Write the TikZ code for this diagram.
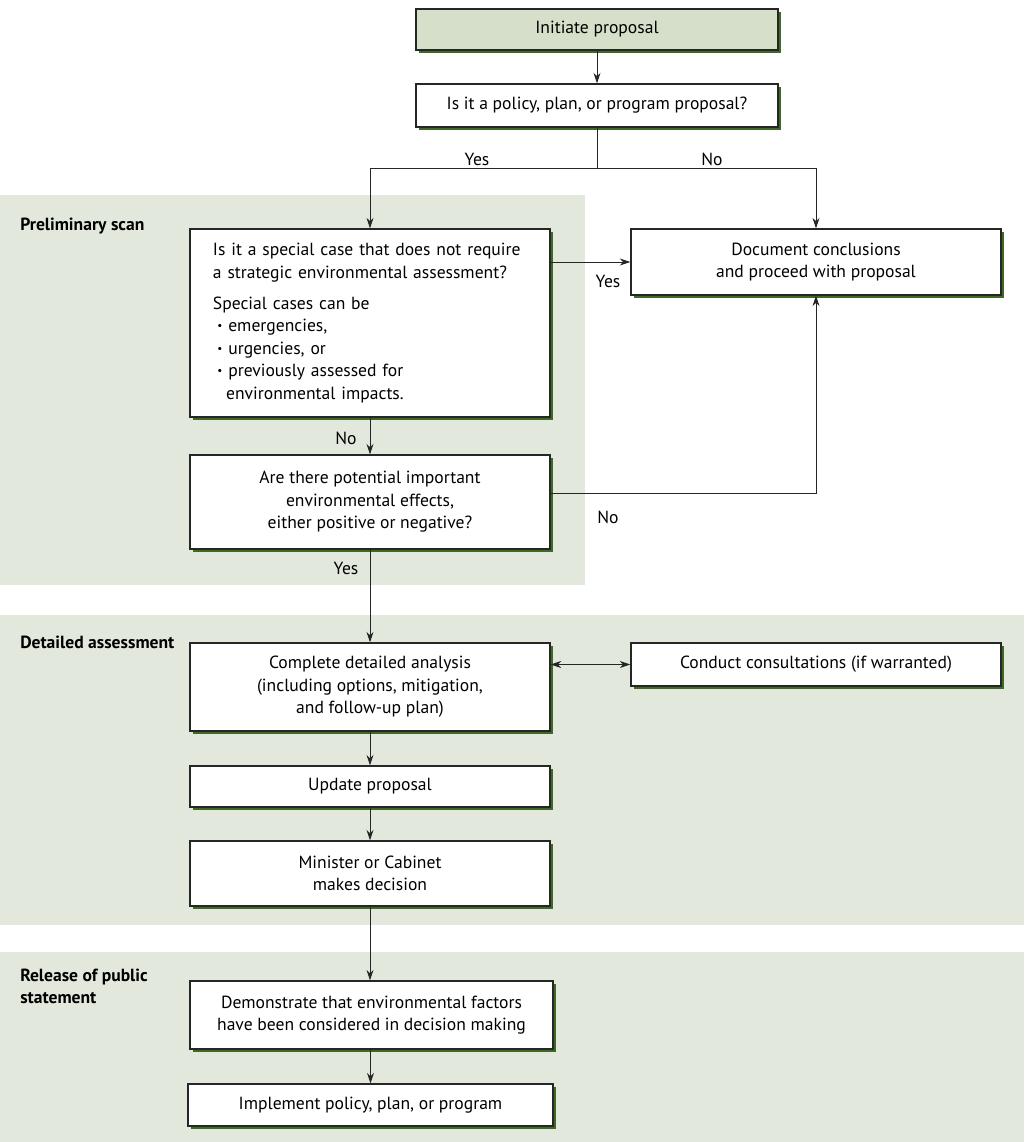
\documentclass[tikz,border=0pt]{standalone}
\usepackage{fontspec}
\setmainfont{PT Sans}
\usetikzlibrary{arrows.meta, positioning, calc}

\definecolor{bandgreen}{HTML}{E3E8DC}
\definecolor{startgreen}{HTML}{D5DFC9}
\definecolor{shadowgreen}{HTML}{3F6A25}

\newcommand{\smallbul}{\raisebox{0.12em}{\fontsize{8}{8}\selectfont\textbullet}}

\tikzset{
  procbox/.style={draw=black!85, line width=0.9pt, fill=white, align=center, inner sep=2pt,
    font=\fontsize{12.5}{16}\selectfont,
    preaction={fill=shadowgreen, transform canvas={shift={(2pt,-2pt)}}}},
  startbox/.style={procbox, fill=startgreen},
  sectlabel/.style={font=\bfseries\fontsize{12.5}{15.5}\selectfont, anchor=north west, align=left, inner sep=0pt},
  answer/.style={font=\fontsize{12.5}{16}\selectfont, inner sep=0pt},
  arr/.style={-{Stealth[length=7.5pt,width=5pt]}, line width=0.7pt, black!85},
  link/.style={line width=0.7pt, black!85}
}

\begin{document}
\begin{tikzpicture}[x=0.025cm, y=-0.025cm]
\useasboundingbox (0,0) rectangle (1024,1142);

% Background bands
\fill[bandgreen] (0,195) rectangle (585,585);
\fill[bandgreen] (0,615) rectangle (1024,925);
\fill[bandgreen] (0,952) rectangle (1024,1142);

% Band labels
\node[sectlabel] (lblscan) at (20,218) {Preliminary scan};
\node[sectlabel] (lbldetail) at (20,636) {Detailed assessment};
\node[sectlabel] (lblrelease) at (20,969) {Release of public\\statement};

% Top of the chart
\node[startbox, minimum width=9.05cm, minimum height=1.025cm] (init) at (597,29.5) {Initiate proposal};
\node[procbox, minimum width=9.05cm, minimum height=1.075cm] (policy) at (597,105.5) {Is it a policy, plan, or program proposal?};

% Preliminary scan
\node[procbox, minimum width=9cm, minimum height=4.7cm, align=left, text width=7.85cm, inner xsep=0.575cm] (special) at (370,323)
  {Is it a special case that does not require\\
   a strategic environmental assessment?\\[6pt]
   Special cases can be\\
   \hspace*{0.25em}\smallbul\ emergencies,\\
   \hspace*{0.25em}\smallbul\ urgencies, or\\
   \hspace*{0.25em}\smallbul\ previously assessed for\\
   \hspace*{0.75em}environmental impacts.};
\node[procbox, minimum width=9.25cm, minimum height=1.65cm] (docbox) at (816,262) {Document conclusions\\and proceed with proposal};
\node[procbox, minimum width=9cm, minimum height=2.35cm] (potential) at (370,502) {Are there potential important\\environmental effects,\\either positive or negative?};

% Detailed assessment
\node[procbox, minimum width=9cm, minimum height=2.2cm] (complete) at (370,687) {Complete detailed analysis\\(including options, mitigation,\\and follow-up plan)};
\node[procbox, minimum width=9.25cm, minimum height=1.075cm] (conduct) at (816,664.5) {Conduct consultations (if warranted)};
\node[procbox, minimum width=9cm, minimum height=1.025cm] (update) at (370,786.5) {Update proposal};
\node[procbox, minimum width=9cm, minimum height=1.625cm] (minister) at (370,873.5) {Minister or Cabinet\\makes decision};

% Release of public statement
\node[procbox, minimum width=9.075cm, minimum height=1.7cm] (demo) at (371.5,1015) {Demonstrate that environmental factors\\have been considered in decision making};
\node[procbox, minimum width=9.125cm, minimum height=1.05cm] (implement) at (370.5,1105) {Implement policy, plan, or program};

% Connectors
\draw[arr] (init) -- (policy);
\draw[link] (policy.south) -- ++(0,41) coordinate (split);
\draw[arr] (split) -| (special.north);
\draw[arr] (split) -| (docbox.north);
\draw[arr] (special.east |- docbox.west) -- (docbox.west);
\draw[arr] (special) -- (potential);
\draw[arr] ([yshift=0.225cm]potential.east) -| (docbox.south);
\draw[arr] (potential) -- (complete);
\draw[arr, {Stealth[length=7.5pt,width=5pt]}-{Stealth[length=7.5pt,width=5pt]}] (complete.east |- conduct.west) -- (conduct.west);
\draw[arr] (complete) -- (update);
\draw[arr] (update) -- (minister);
\draw[arr] (minister) -- (minister |- demo.north);
\draw[arr] (demo.south -| implement) -- (implement);

% Answers
\node[answer] (yes1) at (477,159) {Yes};
\node[answer] (no1) at (712,159) {No};
\node[answer] (yes2) at (608,281) {Yes};
\node[answer] (no2) at (346,438) {No};
\node[answer] (no3) at (608,517) {No};
\node[answer] (yes3) at (346,568) {Yes};
\end{tikzpicture}
\end{document}
